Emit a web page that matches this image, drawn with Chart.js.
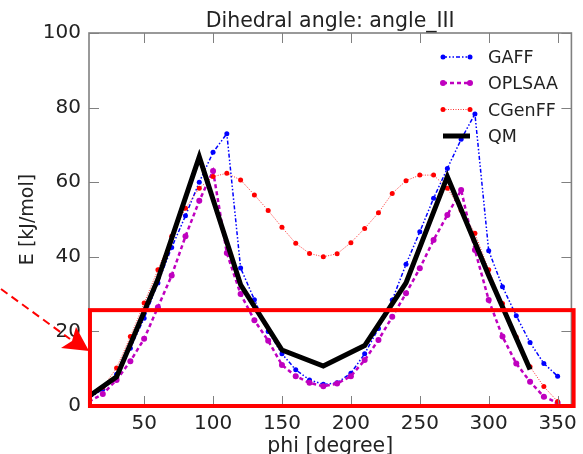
<!DOCTYPE html>
<html>
<head>
<meta charset="utf-8">
<script src="https://cdn.jsdelivr.net/npm/chart.js@4.4.1/dist/chart.umd.min.js"></script>
<style>
  html, body { margin: 0; padding: 0; background: #fff; }
  #wrap { width: 583px; height: 454px; overflow: hidden; }
</style>
</head>
<body>
<div id="wrap"><canvas id="g-dihedral" width="583" height="454"></canvas></div>
<script>
// angulos de las curvas de campo de fuerza (cada 10 grados) y de QM (cada 30)
var ANGLES = [0,10,20,30,40,50,60,70,80,90,100,110,120,130,140,150,160,170,
              180,190,200,210,220,230,240,250,260,270,280,290,300,310,320,330,340,350];
var GAFF   = [0,2,4.5,8.5,15.5,23.5,33,42.5,51,60,68,73,37,28.5,20,14,9.7,7,
              5.8,6.2,8.8,14,20.8,28.4,38,46.7,55.7,63.7,71.5,78.3,41.6,32,24.2,17,11.4,8];
var OPLSAA = [0.5,1.2,3.2,7,12,18,26.5,35,45.5,55,63,41,30,23,17.5,11,8,6.2,
              5.3,6,8,12.3,17.7,23.9,30.2,36.9,44.5,51.2,57.9,41.8,28.4,18.6,11.4,6.5,2.5,0.8];
var CGENFF = [0.5,2,5,10.2,18.6,27.6,36.5,45.5,53,58.4,61.5,62.4,60.6,56.6,52.4,47.9,43.6,40.9,
              40,40.8,43.8,47.6,51.8,57,60.4,61.9,61.9,58.4,52.5,46.3,36.5,27.5,18.5,10.5,5.2,1.2];
var QM_ANGLES = [0,30,60,90,120,150,180,210,240,270,300,330];
var QM        = [0,7.8,34,66.8,32.5,15,10.7,16.2,33,61.5,35,9.8];

var X_TICKS = [50,100,150,200,250,300,350];
var Y_TICKS = [0,20,40,60,80,100];
var LEGEND  = ["GAFF","OPLSAA","CGenFF","QM"];

var FONT = "'DejaVu Sans', 'Liberation Sans', sans-serif";

function pts(xs, ys) { return xs.map(function(x, i){ return { x: x, y: ys[i] }; }); }

// recuadro rojo de la anotacion (en unidades de datos)
var BOX_X = [10.7, 361.6], BOX_Y = [0, 25.7];

var decor = {
  id: "decor",
  beforeDraw: function(c) {
    var ctx = c.ctx;
    ctx.save(); ctx.fillStyle = "#fff"; ctx.fillRect(0, 0, c.width, c.height); ctx.restore();
  },
  afterDatasetsDraw: function(c) {
    var ctx = c.ctx, a = c.chartArea, xs = c.scales.x, ys = c.scales.y;
    ctx.save();

    // marco + ticks hacia adentro en los cuatro lados
    ctx.strokeStyle = "#808080"; ctx.lineWidth = 1;
    X_TICKS.forEach(function(v) {
      var px = Math.round(xs.getPixelForValue(v)) + 0.5;
      ctx.beginPath(); ctx.moveTo(px, a.bottom); ctx.lineTo(px, a.bottom - 10);
      ctx.moveTo(px, a.top); ctx.lineTo(px, a.top + 10); ctx.stroke();
    });
    Y_TICKS.forEach(function(v) {
      var py = Math.round(ys.getPixelForValue(v)) + 0.5;
      ctx.beginPath(); ctx.moveTo(a.left, py); ctx.lineTo(a.left + 10, py);
      ctx.moveTo(a.right, py); ctx.lineTo(a.right - 10, py); ctx.stroke();
    });
    ctx.lineWidth = 1.6;
    ctx.strokeRect(a.left, a.top, a.right - a.left, a.bottom - a.top);

    // titulo y ejes
    ctx.fillStyle = "#222";
    ctx.textAlign = "center"; ctx.textBaseline = "alphabetic";
    ctx.font = "20.5px " + FONT;
    ctx.fillText("Dihedral angle: angle_III", (a.left + a.right) / 2, 27);
    ctx.font = "20.5px " + FONT;
    ctx.fillText("phi [degree]", (a.left + a.right) / 2, 452);
    ctx.save();
    ctx.translate(33, (a.top + a.bottom) / 2);
    ctx.rotate(-Math.PI / 2);
    ctx.font = "19px " + FONT;
    ctx.fillText("E [kJ/mol]", 0, 0);
    ctx.restore();

    // leyenda
    var rowY = [57, 83, 109.5, 136];
    c.data.datasets.forEach(function(ds, i) {
      var y = rowY[i], x0 = 443, x1 = 470;
      ctx.save();
      ctx.strokeStyle = ds.borderColor; ctx.lineWidth = ds.borderWidth;
      ctx.setLineDash(ds.borderDash || []);
      ctx.beginPath(); ctx.moveTo(x0, y); ctx.lineTo(x1, y); ctx.stroke();
      ctx.setLineDash([]);
      if (ds.pointRadius > 0) {
        ctx.fillStyle = ds.pointBackgroundColor;
        [x0, x1].forEach(function(px) {
          ctx.beginPath(); ctx.arc(px, y, ds.pointRadius, 0, Math.PI * 2); ctx.fill();
        });
      }
      ctx.restore();
      ctx.fillStyle = "#222"; ctx.textAlign = "left"; ctx.textBaseline = "alphabetic";
      ctx.font = "17.5px " + FONT;
      ctx.fillText(LEGEND[i], 488, y + 6.4);
    });

    // anotacion: recuadro rojo
    var bx0 = xs.getPixelForValue(BOX_X[0]), bx1 = xs.getPixelForValue(BOX_X[1]);
    var by0 = ys.getPixelForValue(BOX_Y[0]), by1 = ys.getPixelForValue(BOX_Y[1]);
    ctx.strokeStyle = "#ff0000"; ctx.lineWidth = 4;
    ctx.strokeRect(bx0, by1, bx1 - bx0, by0 - by1);

    // flecha roja punteada
    ctx.lineWidth = 2; ctx.setLineDash([8, 5]);
    ctx.beginPath(); ctx.moveTo(1, 289); ctx.lineTo(70, 339); ctx.stroke();
    ctx.setLineDash([]);
    ctx.fillStyle = "#ff0000";
    ctx.beginPath();
    ctx.moveTo(89, 351); ctx.lineTo(61, 348); ctx.lineTo(72, 341); ctx.lineTo(76, 327);
    ctx.closePath(); ctx.fill();

    ctx.restore();
  }
};

new Chart(document.getElementById("g-dihedral"), {
  type: "line",
  data: {
    datasets: [
      { label: "GAFF", data: pts(ANGLES, GAFF), borderColor: "#0000ff", borderWidth: 1.5,
        borderDash: [4, 2, 1.5, 2, 1.5, 2], pointRadius: 2.5, pointBackgroundColor: "#0000ff",
        pointBorderWidth: 0, order: 4 },
      { label: "OPLSAA", data: pts(ANGLES, OPLSAA), borderColor: "#bf00bf", borderWidth: 2.5,
        borderDash: [4, 3], pointRadius: 3, pointBackgroundColor: "#bf00bf",
        pointBorderWidth: 0, order: 3 },
      { label: "CGenFF", data: pts(ANGLES, CGENFF), borderColor: "#ff3030", borderWidth: 1,
        borderDash: [1, 1.5], pointRadius: 2.5, pointBackgroundColor: "#ff0000",
        pointBorderWidth: 0, order: 2 },
      { label: "QM", data: pts(QM_ANGLES, QM), borderColor: "#000000", borderWidth: 5,
        pointRadius: 0, order: 1 }
    ]
  },
  options: {
    responsive: false, animation: false, devicePixelRatio: 1,
    layout: { padding: { left: 0, top: 33, right: 10, bottom: 0 } },
    elements: { line: { tension: 0, borderCapStyle: "butt", borderJoinStyle: "miter" } },
    plugins: { legend: { display: false }, tooltip: { enabled: false }, title: { display: false } },
    scales: {
      x: {
        type: "linear", min: 10, max: 360,
        afterBuildTicks: function(s) { s.ticks = X_TICKS.map(function(v){ return { value: v }; }); },
        afterFit: function(s) { s.height = 48; },
        grid: { display: false, drawTicks: false }, border: { display: false },
        ticks: { color: "#222", font: { family: FONT, size: 20 }, padding: 6, maxRotation: 0, autoSkip: false }
      },
      y: {
        min: 0, max: 100,
        afterBuildTicks: function(s) { s.ticks = Y_TICKS.map(function(v){ return { value: v }; }); },
        afterFit: function(s) { s.width = 89; },
        grid: { display: false, drawTicks: false }, border: { display: false },
        ticks: { color: "#222", font: { family: FONT, size: 20 }, padding: 8 }
      }
    }
  },
  plugins: [decor]
});
</script>
</body>
</html>
